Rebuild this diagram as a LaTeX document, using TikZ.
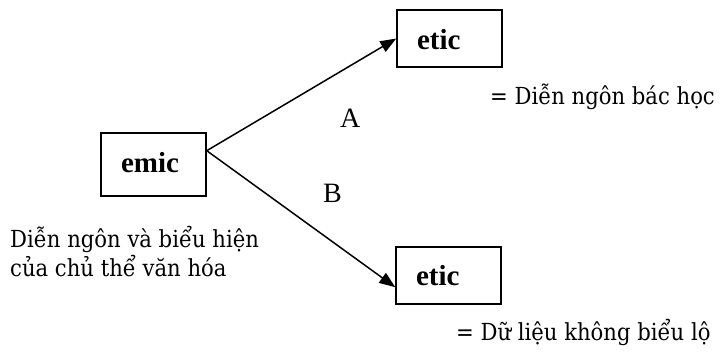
\documentclass[tikz,border=0pt]{standalone}
\usepackage{fontspec}
\setmainfont{Liberation Serif}
\newfontfamily\viet{DejaVu Serif Condensed}
\usetikzlibrary{arrows.meta,calc}
\begin{document}
\begin{tikzpicture}[x=1pt,y=-1pt,
  box/.style={draw,line width=1.5pt,inner ysep=0pt,inner xsep=20pt,text width=65pt,align=left,
    text depth=0pt,font=\fontsize{29}{30}\selectfont\bfseries},
  arr/.style={line width=1.5pt,-{Triangle[length=16pt,width=12pt]}},
  lab/.style={font=\fontsize{28}{30}\selectfont,inner sep=0pt,anchor=base west},
  vt/.style={font=\viet\fontsize{23.5}{28}\selectfont,inner sep=0pt,anchor=base west}]
\useasboundingbox (0,0) rectangle (723,354);
\node[box,minimum height=63pt,text height=15pt] (emic) at (153.5,164.5) {emic};
\node[box,minimum height=57pt,text height=21pt] (etic1) at (449.5,38.5) {etic};
\node[box,minimum height=57pt,text height=20pt] (etic2) at (448.5,275.5) {etic};
\coordinate (s) at ($(emic.north east)!0.286!(emic.south east)$);
\coordinate (t2) at ($(etic2.north west)!0.70!(etic2.south west)$);
\draw[arr] (s) -- (etic1.west);
\draw[arr] (s) -- (t2);
\node[lab] (A) at (340,127) {A};
\node[lab] (B) at (323,202) {B};
\node[vt] (d1) at (490,104) {= Diễn ngôn bác học};
\node[vt] (d2) at (456,340) {= Dữ liệu không biểu lộ};
\node[vt] (l1) at (10,247) {Diễn ngôn và biểu hiện};
\node[vt] (l2) at (10,276) {của chủ thể văn hóa};
\end{tikzpicture}
\end{document}
